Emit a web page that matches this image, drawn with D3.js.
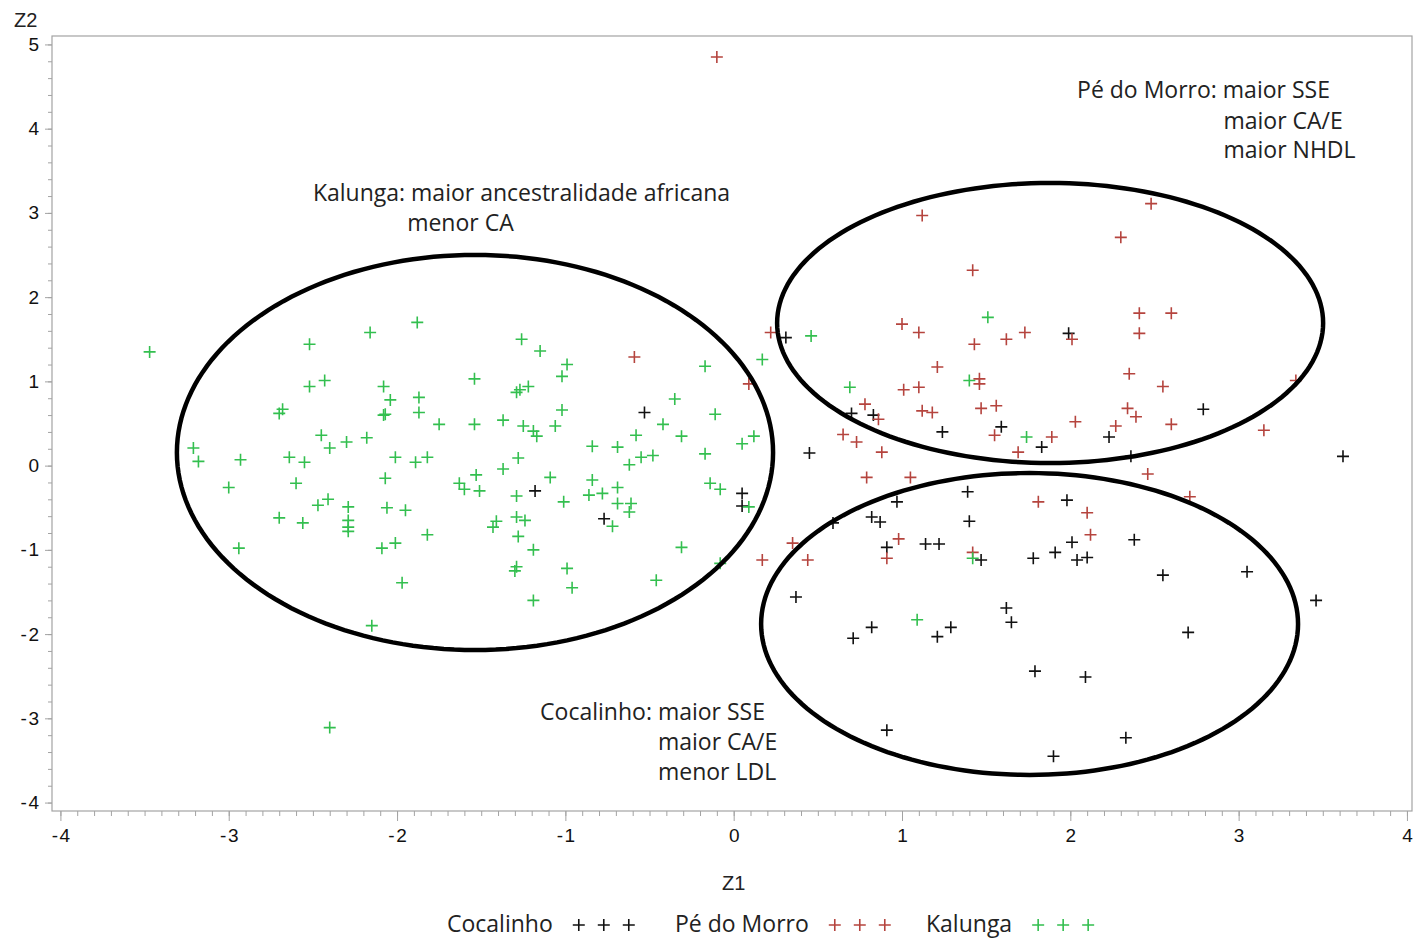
<!DOCTYPE html>
<html>
<head>
<meta charset="utf-8">
<script src="https://cdn.jsdelivr.net/npm/d3@7"></script>
<style>
    body { margin: 0; background: #fff; }
    svg { display: block; }
    .tick-label { font-family: "Liberation Sans", Arial, sans-serif; font-size: 19px; fill: #111; }
    .axis-title { font-family: "Liberation Sans", Arial, sans-serif; font-size: 20px; fill: #222; }
    .note { font-family: "Open Sans", sans-serif; font-size: 23px; fill: #222; }
</style>
</head>
<body>
<svg id="chart" width="1414" height="941"></svg>
<script>
/*jslint browser: true */
(function (d3) {
    "use strict";

    // series names, colours, in legend order
    var groups = ["Cocalinho", "Pé do Morro", "Kalunga"];
    var colors = ["#111111", "#b5443e", "#33bf4f"];

    // Cocalinho scores [Z1, Z2]
    var cocalinho = [
        [-0.53, 0.63], [-1.18, -0.30], [-0.77, -0.63], [0.05, -0.33], [0.05, -0.48],
        [0.31, 1.52], [1.99, 1.57], [0.70, 0.62], [0.83, 0.60], [1.59, 0.46],
        [1.24, 0.40], [1.83, 0.22], [0.45, 0.15], [1.39, -0.31], [1.98, -0.41],
        [0.97, -0.43], [0.82, -0.61], [0.87, -0.67], [0.59, -0.68], [1.40, -0.66],
        [0.91, -0.97], [1.14, -0.93], [1.22, -0.93], [1.47, -1.12], [1.78, -1.10],
        [1.91, -1.03], [2.01, -0.91], [2.04, -1.12], [2.10, -1.09], [0.37, -1.56],
        [2.79, 0.67], [2.23, 0.34], [2.36, 0.11], [3.62, 0.11], [2.38, -0.88],
        [2.55, -1.30], [3.05, -1.26], [3.46, -1.60], [2.70, -1.98], [2.09, -2.51],
        [2.33, -3.23], [1.90, -3.45], [0.82, -1.92], [0.71, -2.05], [1.21, -2.03],
        [1.29, -1.92], [1.62, -1.69], [1.65, -1.86], [1.79, -2.44], [0.91, -3.14]
    ];

    // Pé do Morro scores [Z1, Z2]
    var peDoMorro = [
        [-0.10, 4.85], [1.12, 2.97], [1.42, 2.32], [2.48, 3.11], [2.30, 2.71],
        [-0.59, 1.29], [0.09, 0.97], [0.17, -1.12], [0.22, 1.58], [1.00, 1.68],
        [1.10, 1.58], [1.43, 1.44], [1.62, 1.50], [1.73, 1.58], [2.01, 1.50],
        [1.21, 1.17], [1.46, 1.03], [1.46, 0.97], [1.01, 0.90], [1.10, 0.93],
        [0.78, 0.73], [1.12, 0.65], [1.18, 0.63], [1.47, 0.68], [1.56, 0.71],
        [0.86, 0.55], [1.55, 0.36], [2.03, 0.52], [1.89, 0.34], [1.69, 0.16],
        [0.65, 0.37], [0.73, 0.28], [0.88, 0.16], [0.79, -0.14], [1.05, -0.14],
        [1.81, -0.43], [0.98, -0.87], [0.35, -0.92], [0.91, -1.10], [0.44, -1.12],
        [1.42, -1.03], [2.41, 1.81], [2.60, 1.81], [2.41, 1.57], [2.35, 1.09],
        [2.55, 0.94], [2.34, 0.68], [2.39, 0.58], [2.27, 0.47], [2.60, 0.49],
        [3.34, 1.01], [3.15, 0.42], [2.46, -0.10], [2.71, -0.37], [2.10, -0.56],
        [2.12, -0.82]
    ];

    // Kalunga scores [Z1, Z2]
    var kalunga = [
        [-3.47, 1.35], [-2.52, 1.44], [-2.16, 1.58], [-1.88, 1.70], [-2.52, 0.94],
        [-2.43, 1.01], [-2.08, 0.94], [-2.04, 0.78], [-1.87, 0.81], [-2.68, 0.67],
        [-2.70, 0.62], [-2.08, 0.60], [-2.07, 0.61], [-1.87, 0.63], [-1.75, 0.49],
        [-2.45, 0.36], [-2.40, 0.21], [-2.30, 0.28], [-2.18, 0.33], [-3.21, 0.21],
        [-3.18, 0.05], [-2.93, 0.07], [-2.64, 0.10], [-2.55, 0.04], [-2.01, 0.10],
        [-1.89, 0.04], [-1.82, 0.10], [-2.07, -0.15], [-3.00, -0.26], [-2.60, -0.21],
        [-1.63, -0.21], [-2.47, -0.47], [-2.41, -0.40], [-2.29, -0.49], [-2.06, -0.50],
        [-1.95, -0.53], [-2.70, -0.62], [-2.56, -0.68], [-2.29, -0.65], [-2.29, -0.73],
        [-2.29, -0.78], [-1.82, -0.82], [-2.94, -0.98], [-2.09, -0.98], [-2.01, -0.92],
        [-1.97, -1.39], [-2.15, -1.90], [-2.40, -3.11],
        [-1.26, 1.50], [-1.15, 1.36], [-0.99, 1.20], [-1.02, 1.06], [-1.54, 1.03],
        [-1.22, 0.94], [-1.27, 0.90], [-1.29, 0.87], [-1.02, 0.66], [-1.54, 0.49],
        [-1.37, 0.54], [-1.25, 0.47], [-1.19, 0.41], [-1.17, 0.35], [-1.06, 0.47],
        [-0.17, 1.18], [0.17, 1.26], [-0.35, 0.79], [-0.11, 0.61], [-0.42, 0.49],
        [-0.31, 0.35], [-0.58, 0.36], [-0.84, 0.23], [-0.69, 0.22], [0.12, 0.35],
        [0.05, 0.26], [-0.17, 0.14], [-0.55, 0.10], [-0.48, 0.12], [-0.62, 0.01],
        [-1.28, 0.09], [-1.37, -0.04], [-1.53, -0.11], [-1.09, -0.14], [-0.84, -0.17],
        [-1.60, -0.28], [-1.51, -0.30], [-1.29, -0.36], [-0.69, -0.26], [-0.86, -0.35],
        [-0.78, -0.33], [-1.01, -0.43], [-0.69, -0.45], [-0.61, -0.45], [-0.62, -0.55],
        [-0.14, -0.21], [-0.08, -0.28], [0.09, -0.49], [-0.72, -0.72], [-1.29, -0.61],
        [-1.24, -0.65], [-1.41, -0.66], [-1.43, -0.73], [-1.28, -0.84], [-1.19, -1.00],
        [-0.31, -0.97], [-0.08, -1.16], [-1.29, -1.20], [-1.30, -1.25], [-0.99, -1.22],
        [-0.96, -1.45], [-0.46, -1.36], [-1.19, -1.60],
        [0.46, 1.54], [1.51, 1.76], [1.40, 1.01], [0.69, 0.93], [1.74, 0.34],
        [1.42, -1.10], [1.09, -1.83]
    ];

    // hand drawn group ellipses: [cx, cy, rx, ry] in Z units
    var ellipses = [
        [-1.537, 0.156, 1.771, 2.345],
        [1.880, 1.693, 1.622, 1.662],
        [1.758, -1.880, 1.595, 1.792]
    ];

    // annotation lines: [Z1, Z2 baseline, text]
    var notes = [
        [-2.50, 3.14, "Kalunga: maior ancestralidade africana"],
        [-1.94, 2.78, "menor CA"],
        [2.04, 4.36, "Pé do Morro: maior SSE"],
        [2.91, 4.00, "maior CA/E"],
        [2.91, 3.65, "maior NHDL"],
        [-1.15, -3.02, "Cocalinho: maior SSE"],
        [-0.45, -3.38, "maior CA/E"],
        [-0.45, -3.73, "menor LDL"]
    ];

    var xTicks = [-4, -3, -2, -1, 0, 1, 2, 3, 4];
    var yTicks = [-4, -3, -2, -1, 0, 1, 2, 3, 4, 5];

    var svg = d3.select("#chart");
    var left = 52, right = 1412, top = 36, bottom = 811;

    var x = d3.scaleLinear().domain([-4.05, 4.03]).range([left, right]);
    var y = d3.scaleLinear().domain([-4.1, 5.1]).range([bottom, top]);

    var axisColor = "#a3a3a3";

    // minor ticks
    var xMinor = d3.range(-40, 41).map(function (i) { return i / 10; });
    var yMinor = d3.range(-20, 26).map(function (i) { return i / 5; });

    function styleAxis(g) {
        g.select(".domain").remove();
        g.selectAll(".tick line").attr("stroke", axisColor);
    }

    svg.append("g")
        .attr("transform", "translate(0," + bottom + ")")
        .call(d3.axisBottom(x).tickValues(xMinor).tickSize(5).tickFormat(""))
        .call(styleAxis);
    svg.append("g")
        .attr("transform", "translate(0," + bottom + ")")
        .call(d3.axisBottom(x).tickValues(xTicks).tickSize(10).tickPadding(8).tickFormat(d3.format("d")))
        .call(styleAxis)
        .selectAll("text").attr("class", "tick-label").attr("font-size", null).attr("font-family", null);

    svg.append("g")
        .attr("transform", "translate(" + left + ",0)")
        .call(d3.axisLeft(y).tickValues(yMinor).tickSize(4).tickFormat(""))
        .call(styleAxis);
    svg.append("g")
        .attr("transform", "translate(" + left + ",0)")
        .call(d3.axisLeft(y).tickValues(yTicks).tickSize(7).tickPadding(6).tickFormat(d3.format("d")))
        .call(styleAxis)
        .selectAll("text").attr("class", "tick-label").attr("font-size", null).attr("font-family", null);

    // use a plain hyphen plus a hair gap for negatives, like the original
    svg.selectAll(".tick-label").text(function (d) { return d < 0 ? "-\u200A" + Math.abs(d) : String(d); });

    svg.append("rect")
        .attr("x", left).attr("y", top)
        .attr("width", right - left).attr("height", bottom - top)
        .attr("fill", "none").attr("stroke", axisColor).attr("stroke-width", 1.2);

    svg.append("text").attr("class", "axis-title").attr("x", 14).attr("y", 27).text("Z2");
    svg.append("text").attr("class", "axis-title").attr("x", x(0)).attr("y", 890)
        .attr("text-anchor", "middle").text("Z1");

    // points
    var plus = "M-6,0H6M0,-6V6";
    [cocalinho, peDoMorro, kalunga].forEach(function (pts, i) {
        svg.append("g").selectAll("path")
            .data(pts)
            .enter().append("path")
            .attr("d", plus)
            .attr("transform", function (d) { return "translate(" + x(d[0]) + "," + y(d[1]) + ")"; })
            .attr("stroke", colors[i])
            .attr("stroke-width", 1.6)
            .attr("fill", "none");
    });

    // ellipses
    var line = d3.line();
    svg.append("g").selectAll("path")
        .data(ellipses)
        .enter().append("path")
        .attr("d", function (e) {
            var pts = d3.range(0, 361, 2).map(function (a) {
                var t = a * Math.PI / 180;
                return [x(e[0] + e[2] * Math.cos(t)), y(e[1] + e[3] * Math.sin(t))];
            });
            return line(pts) + "Z";
        })
        .attr("fill", "none")
        .attr("stroke", "#000")
        .attr("stroke-width", 4.5);

    svg.append("g").selectAll("text")
        .data(notes)
        .enter().append("text")
        .attr("class", "note")
        .attr("x", function (d) { return x(d[0]); })
        .attr("y", function (d) { return y(d[1]); })
        .text(function (d) { return d[2]; });

    // legend
    var legendX = [447, 675, 926], legendY = 932;
    groups.forEach(function (name, i) {
        var g = svg.append("g").attr("transform", "translate(" + legendX[i] + "," + legendY + ")");
        var t = g.append("text").attr("class", "note").text(name);
        var w = t.node().getComputedTextLength();
        [0, 1, 2].forEach(function (k) {
            g.append("path")
                .attr("d", plus)
                .attr("transform", "translate(" + (w + 26 + k * 25) + ",-7)")
                .attr("stroke", colors[i])
                .attr("stroke-width", 1.6)
                .attr("fill", "none");
        });
    });

}(window.d3));
</script>
</body>
</html>
